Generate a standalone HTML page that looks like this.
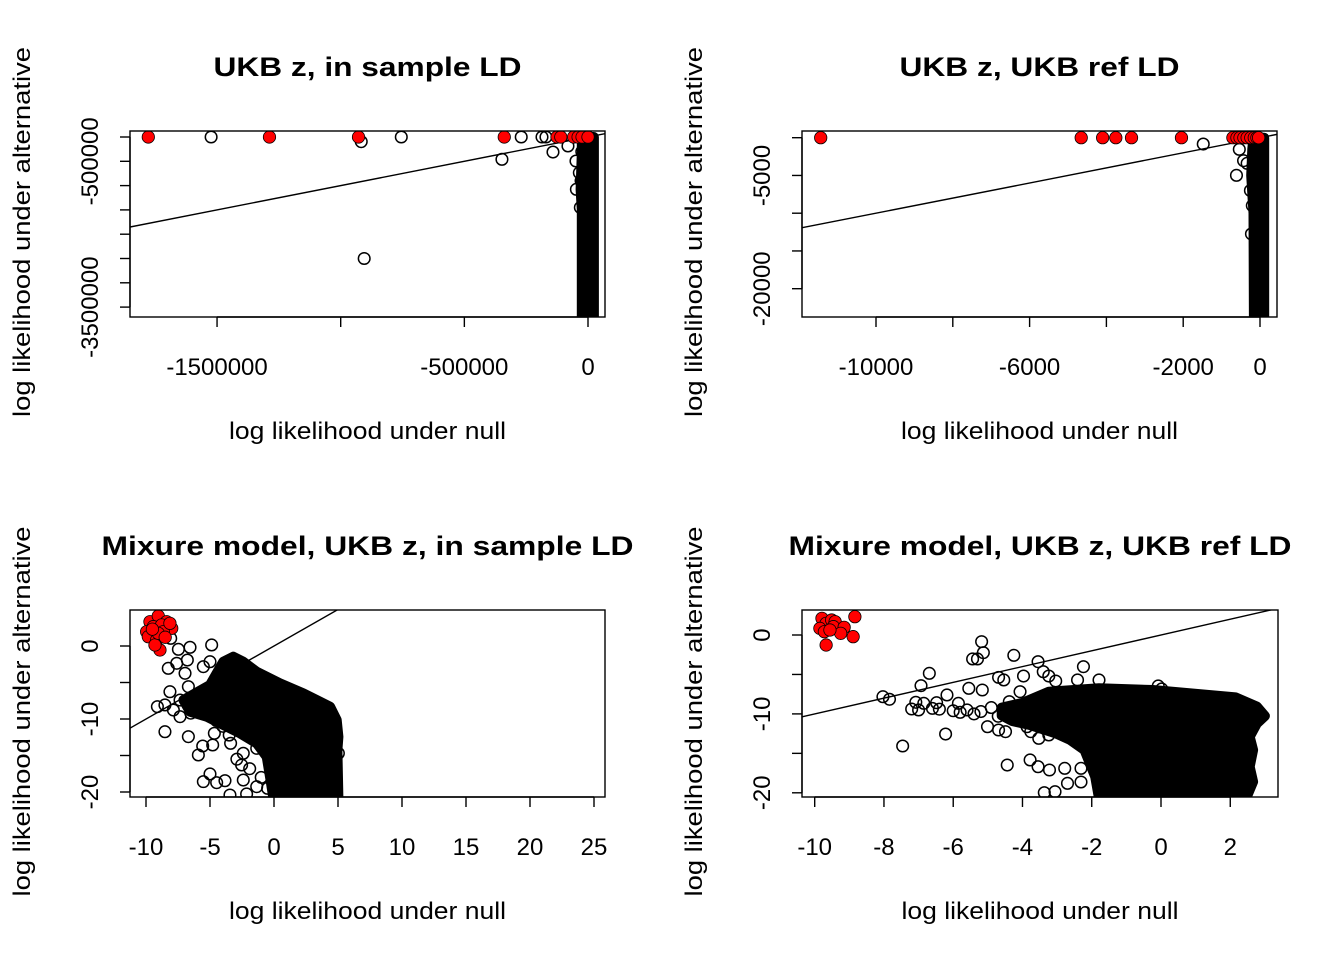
<!DOCTYPE html>
<html><head><meta charset="utf-8">
<style>
html,body{margin:0;padding:0;background:#fff;}
svg{display:block;font-family:"Liberation Sans",Arial,sans-serif;}
</style></head>
<body>
<svg id="fig" width="1344" height="960" viewBox="0 0 1344 960" xmlns="http://www.w3.org/2000/svg"></svg>
<script>
// ---------- Panel 1 data: UKB z, in sample LD ----------
const p1RedX = [-1778000,-1288000,-928000,-338600,-125400,-110000,-58000,-40000,-24000,0];
const p1RedY = [0,0,0,0,0,0,0,0,0,0];
const p1BlackX = [-1524000,-755000,-917000,-905000,-348000,-270000,-186000,-170000,-141600,-81000,-48600,-47000,-35000,-31000,-25000,-28000];
const p1BlackY = [0,0,-96000,-2500000,-460000,0,0,0,-309000,-185000,-494000,-1077000,-735000,-1450000,-300000,-900000];
const p1DenseX = [-25000,24000,24000,-25000,-25000,-30000,-25000];
const p1DenseY = [0,0,-3800000,-3800000,-1500000,-1080000,-330000];
const p1XTicks = [-1500000,-1000000,-500000,0];
const p1XLabels = ["-1500000","","-500000","0"];
const p1YTicks = [0,-500000,-1000000,-1500000,-2000000,-2500000,-3000000,-3500000];
const p1YLabels = ["","-500000","","","","","","-3500000"];

// ---------- Panel 2 data: UKB z, UKB ref LD ----------
const p2RedX = [-11440,-4656,-4098,-3755,-3346,-2045,-706,-600,-520,-420,-335,-240,-149,-80,-37];
const p2RedY = [0,0,0,0,0,0,0,0,0,0,0,0,0,0,0];
const p2BlackX = [-1478,-539,-428,-335,-613,-223,-250,-200];
const p2BlackY = [-838,-1544,-3043,-3396,-4983,-12745,-7000,-9000];
const p2DenseX = [-170,110,110,-160,-170,-230,-200];
const p2DenseY = [0,0,-24000,-24000,-10000,-5000,-1500];
const p2XTicks = [-10000,-8000,-6000,-4000,-2000,0];
const p2XLabels = ["-10000","","-6000","","-2000","0"];
const p2YTicks = [0,-5000,-10000,-15000,-20000];
const p2YLabels = ["","-5000","","","-20000"];

// ---------- Panel 3 data: Mixure model, UKB z, in sample LD ----------
const p3RedX = [-9.69,-9.04,-8.39,-7.99,-9.95,-9.43,-8.78,-9.82,-9.17,-8.91,-9.30,-8.65,-8.13,-9.04,-9.5,-8.5];
const p3RedY = [3.33,4.11,3.33,2.42,1.96,2.65,2.88,1.28,0.82,-0.55,0.14,1.96,3.11,1.74,2.3,1.2];
const p3BlackX = [-8.07,-7.47,-6.56,-4.87,-8.26,-7.60,-6.77,-6.95,-6.69,-8.13,-9.11,-8.52,-7.34,-8.52,-6.69,-5.57,-5.91,-4.79,-4.66,-5.52,-5.00,-3.39,-2.40,-2.53,-1.35,-5.52,-5.00,-4.48,-3.83,-2.40,-1.35,-3.44,-2.14,5.03,4.77,4.77,-7.86,-7.34,-6.2,-5.8,-6.5,-4.5,-4.0,-3.5,-2.9,-1.9,-1.0,-0.5];
const p3BlackY = [1.05,-0.46,-0.18,0.14,-3.06,-2.37,-1.92,-3.74,-5.57,-6.26,-8.31,-8.08,-9.68,-11.74,-12.42,-13.70,-14.93,-13.56,-11.96,-2.83,-2.15,-13.33,-14.70,-16.30,-14.02,-18.58,-17.53,-18.72,-18.45,-18.36,-19.27,-20.41,-20.27,-14.70,-17.44,-19.50,-8.77,-7.40,-7.8,-8.6,-9.2,-10.2,-11.0,-12.2,-15.5,-16.8,-18.0,-19.5];
const p3DenseX = [-7.08,-5.00,-3.96,-3.18,-2.40,-1.35,0.47,2.29,3.33,4.38,4.90,5.03,4.95,5.03,-0.05,-0.31,-0.57,-1.35,-2.66,-3.70,-5.26,-6.56];
const p3DenseY = [-7.40,-5.34,-2.15,-1.46,-2.15,-3.52,-5.11,-6.48,-7.40,-8.31,-10.14,-12.42,-14.25,-20.9,-20.9,-17.9,-15.16,-13.33,-11.96,-11.05,-9.68,-9.00];
const p3XTicks = [-10,-5,0,5,10,15,20,25];
const p3XLabels = ["-10","-5","0","5","10","15","20","25"];
const p3YTicks = [0,-5,-10,-15,-20];
const p3YLabels = ["0","","-10","","-20"];

// ---------- Panel 4 data: Mixure model, UKB z, UKB ref LD ----------
const p4RedX = [-9.79,-9.67,-9.51,-9.41,-9.85,-9.72,-9.46,-9.15,-9.25,-8.84,-8.89,-9.67,-9.56];
const p4RedY = [2.11,1.48,1.90,1.69,0.84,0.42,1.06,0.97,0.21,2.32,-0.21,-1.27,0.63];
const p4BlackX = [-5.18,-5.13,-5.44,-5.30,-4.25,-3.55,-2.24,-6.69,-6.93,-8.03,-7.84,-7.20,-7.08,-6.85,-6.48,-6.18,-5.85,-5.55,-5.16,-6.22,-7.46,-4.44,-3.78,-3.55,-3.22,-2.78,-2.31,-2.70,-2.31,-3.37,-3.06,-5.01,-4.69,-4.49,-3.87,-3.76,-3.53,-3.24,-1.79,-1.38,-0.76,-0.08,0.02,-2.41,-1.79,-4.69,-4.54,-3.97,-3.40,-3.24,-3.04,-4.07,-4.38,-6.4,-6.0,-5.6,-5.2,-4.9,-4.7,-5.4,-5.8,-6.6,-7.0];
const p4BlackY = [-0.84,-2.24,-3.04,-3.04,-2.58,-3.38,-4.01,-4.86,-6.42,-7.82,-8.15,-9.38,-8.53,-8.66,-8.58,-7.60,-8.66,-6.76,-6.97,-12.55,-14.07,-16.48,-15.84,-16.69,-17.11,-16.90,-16.90,-18.80,-18.63,-19.98,-19.86,-11.62,-12.04,-12.25,-11.62,-12.25,-13.10,-12.67,-15.21,-19.22,-19.01,-6.46,-6.84,-5.70,-5.70,-5.37,-5.70,-5.20,-4.65,-5.20,-5.83,-7.18,-8.45,-9.4,-9.6,-9.5,-9.7,-9.2,-10.3,-10.0,-9.8,-9.3,-9.5];
const p4DenseX = [-4.6,-4.0,-3.24,-1.79,-0.24,2.15,2.77,3.00,2.77,2.56,2.66,2.56,2.66,2.46,-1.79,-1.90,-2.21,-2.62,-3.04,-3.8,-4.3,-4.6];
const p4DenseY = [-9.2,-8.6,-7.18,-6.76,-6.97,-7.90,-9.08,-10.27,-11.20,-12.89,-14.58,-16.69,-18.59,-20.70,-20.70,-17.96,-14.58,-13.31,-12.46,-11.4,-10.9,-10.2];
const p4XTicks = [-10,-8,-6,-4,-2,0,2];
const p4XLabels = ["-10","-8","-6","-4","-2","0","2"];
const p4YTicks = [0,-5,-10,-15,-20];
const p4YLabels = ["0","","-10","","-20"];

const NS = "http://www.w3.org/2000/svg";
const svg = document.getElementById('fig');
function mk(tag, attrs, parent){
  const e = document.createElementNS(NS, tag);
  for (const k in attrs) e.setAttribute(k, attrs[k]);
  (parent||svg).appendChild(e);
  return e;
}

const panels = [
  {id:'p1', title:'UKB z, in sample LD', box:[130,131,605,317], x0:588, xs:247.3e-6, y0:137, ys:48.6e-6,
   redX:p1RedX, redY:p1RedY, bX:p1BlackX, bY:p1BlackY, dX:p1DenseX, dY:p1DenseY,
   xt:p1XTicks, xl:p1XLabels, yt:p1YTicks, yl:p1YLabels, titleW:308},
  {id:'p2', title:'UKB z, UKB ref LD', box:[802,131,1277,317], x0:1260, xs:0.0384, y0:137.7, ys:0.00755,
   redX:p2RedX, redY:p2RedY, bX:p2BlackX, bY:p2BlackY, dX:p2DenseX, dY:p2DenseY,
   xt:p2XTicks, xl:p2XLabels, yt:p2YTicks, yl:p2YLabels, titleW:280},
  {id:'p3', title:'Mixure model, UKB z, in sample LD', box:[130,610,605,797], x0:274, xs:12.8, y0:646, ys:7.3,
   redX:p3RedX, redY:p3RedY, bX:p3BlackX, bY:p3BlackY, dX:p3DenseX, dY:p3DenseY,
   xt:p3XTicks, xl:p3XLabels, yt:p3YTicks, yl:p3YLabels, titleW:532},
  {id:'p4', title:'Mixure model, UKB z, UKB ref LD', box:[802,610,1278,797], x0:1161, xs:34.63, y0:635, ys:7.89,
   redX:p4RedX, redY:p4RedY, bX:p4BlackX, bY:p4BlackY, dX:p4DenseX, dY:p4DenseY,
   xt:p4XTicks, xl:p4XLabels, yt:p4YTicks, yl:p4YLabels, titleW:503}
];

const defs = mk('defs', {});
panels.forEach(p => {
  const [L,T,R,B] = p.box;
  const X = v => p.x0 + v*p.xs;
  const Y = v => p.y0 - v*p.ys;
  const cx = (L+R)/2, cy = (T+B)/2;
  const g = mk('g', {});
  
  

  const cp = mk('clipPath', {id:'clip-'+p.id}, defs);
  mk('rect', {x:L, y:T, width:R-L, height:B-T}, cp);
  const plot = mk('g', {'clip-path':'url(#clip-'+p.id+')'}, g);
  
  

  const pts = p.dX.map((v,i)=> X(v).toFixed(1)+','+Y(p.dY[i]).toFixed(1)).join(' ');
  const dense = mk('polygon', {points:pts, fill:'#000', stroke:'#000', 'stroke-width':10, 'stroke-linejoin':'round'}, plot);
  
  

  p.bX.forEach((v,i) => {
    const c = mk('circle', {cx:X(v), cy:Y(p.bY[i]), r:5.8, fill:'none', stroke:'#000', 'stroke-width':1.5}, plot);
    
    
  });
  const xa = (L - p.x0)/p.xs, xb = (R - p.x0)/p.xs;
  const ln = mk('line', {x1:X(xa), y1:Y(xa), x2:X(xb), y2:Y(xb), stroke:'#000', 'stroke-width':1.4}, plot);
  
  
  p.redX.forEach((v,i) => {
    const c = mk('circle', {cx:X(v), cy:Y(p.redY[i]), r:6.2, fill:'#ff0000', stroke:'#000', 'stroke-width':0.8}, plot);
    
    
  });

  const box = mk('rect', {x:L, y:T, width:R-L, height:B-T, fill:'none', stroke:'#000', 'stroke-width':1.4}, g);
  
  

  const xmin = X(p.xt[0]), xmax = X(p.xt[p.xt.length-1]);
  const xax = mk('line', {x1:xmin, y1:B, x2:xmax, y2:B, stroke:'#000', 'stroke-width':1.4}, g);
  
  
  p.xt.forEach((v,i) => {
    mk('line', {x1:X(v), y1:B, x2:X(v), y2:B+10, stroke:'#000', 'stroke-width':1.4}, g);
    if (p.xl[i]) {
      const t = mk('text', {x:X(v), y:B+58, 'text-anchor':'middle', 'font-size':24}, g);
      t.textContent = p.xl[i];
      
      
    }
  });
  const yax = mk('line', {x1:L, y1:Y(p.yt[0]), x2:L, y2:Y(p.yt[p.yt.length-1]), stroke:'#000', 'stroke-width':1.4}, g);
  
  
  p.yt.forEach((v,i) => {
    mk('line', {x1:L-10, y1:Y(v), x2:L, y2:Y(v), stroke:'#000', 'stroke-width':1.4}, g);
    if (p.yl[i]) {
      const tx = L - 40, ty = Y(v);
      const t = mk('text', {x:tx, y:ty, 'text-anchor':'middle', 'font-size':24, transform:`rotate(-90 ${tx} ${ty})`, dy:8}, g);
      t.textContent = p.yl[i];
      
      
    }
  });
  const tt = mk('text', {x:cx, y:T-55, 'text-anchor':'middle', 'font-size':27, 'font-weight':'bold', textLength:p.titleW, lengthAdjust:'spacingAndGlyphs'}, g);
  tt.textContent = p.title;
  
  
  const xt = mk('text', {x:cx, y:B+122, 'text-anchor':'middle', 'font-size':24, textLength:277, lengthAdjust:'spacingAndGlyphs'}, g);
  xt.textContent = 'log likelihood under null';
  
  
  const yx = L - 108, yy = cy + 8;
  const yt = mk('text', {x:yx, y:yy, 'text-anchor':'middle', 'font-size':24, textLength:370, lengthAdjust:'spacingAndGlyphs', transform:`rotate(-90 ${yx} ${yy})`, dy:8}, g);
  yt.textContent = 'log likelihood under alternative';
  
  
});
</script>
</body></html>
